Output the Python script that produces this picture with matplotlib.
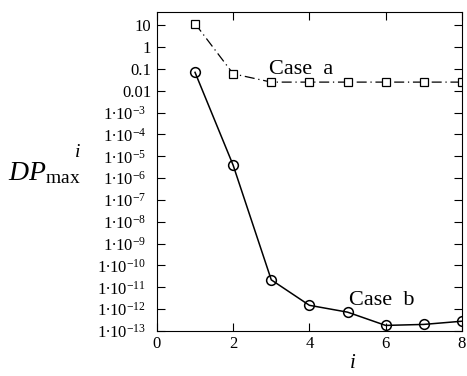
import numpy as np
import matplotlib
matplotlib.use('Agg')
import matplotlib.pyplot as plt
from matplotlib.ticker import FixedLocator, FuncFormatter

plt.rcParams['font.family'] = ['Liberation Serif', 'DejaVu Serif']
plt.rcParams['mathtext.fontset'] = 'custom'
plt.rcParams['mathtext.rm'] = 'Liberation Serif'
plt.rcParams['mathtext.it'] = 'Liberation Serif:italic'

# data
i_vals = [1, 2, 3, 4, 5, 6, 7, 8]
case_a = [12, 0.06, 0.025, 0.025, 0.025, 0.025, 0.025, 0.025]
case_b = [0.07, 3.9e-6, 2.2e-11, 1.5e-12, 7.3e-13, 1.8e-13, 2.0e-13, 2.8e-13]
x_ticks = [0, 2, 4, 6, 8]
y_exps = list(range(1, -14, -1))


def ylab(v, pos):
    e = int(round(np.log10(v)))
    if e >= 0:
        return '%d' % (10 ** e)
    if e >= -2:
        return ('%.' + str(-e) + 'f') % (10.0 ** e)
    return r'$\mathregular{1{\bullet}10^{%d}}$  ' % e


fig = plt.figure(figsize=(4.67, 3.76), dpi=100)
ax = fig.add_axes([0.336, 0.1197, 0.653, 0.848])

ax.plot(i_vals, case_a, color='black', lw=0.9, ls=(0, (8, 3, 1, 3)),
        marker='s', ms=6, mfc='white', mec='black', mew=0.9)
ax.plot(i_vals, case_b, color='black', lw=1.1,
        marker='o', ms=7, mfc='none', mec='black', mew=1.1)

ax.set_yscale('log')
ax.set_xlim(0, 8)
ax.set_ylim(1e-13, 40)
ax.xaxis.set_major_locator(FixedLocator(x_ticks))
ax.xaxis.set_minor_locator(FixedLocator([]))
ax.yaxis.set_major_locator(FixedLocator([10.0 ** e for e in y_exps]))
ax.yaxis.set_minor_locator(FixedLocator([]))
ax.yaxis.set_major_formatter(FuncFormatter(ylab))
ax.tick_params(direction='in', top=True, right=True, length=6, width=0.8,
               labelsize=12)
ax.tick_params(axis='y', pad=4)

for s in ax.spines.values():
    s.set_linewidth(0.8)

ax.text(2.95, 0.09, 'Case  a', fontsize=16, va='center')
ax.text(5.05, 2.5e-12, 'Case  b', fontsize=16, va='center')

fig.text(0.017, 0.54, r'$DP_{\mathrm{max}}$', fontsize=20, va='center')
fig.text(0.158, 0.595, r'$i$', fontsize=14, va='center')
fig.text(0.755, 0.02, r'$i$', fontsize=15, ha='center')

fig.savefig('out.png', dpi=100)
